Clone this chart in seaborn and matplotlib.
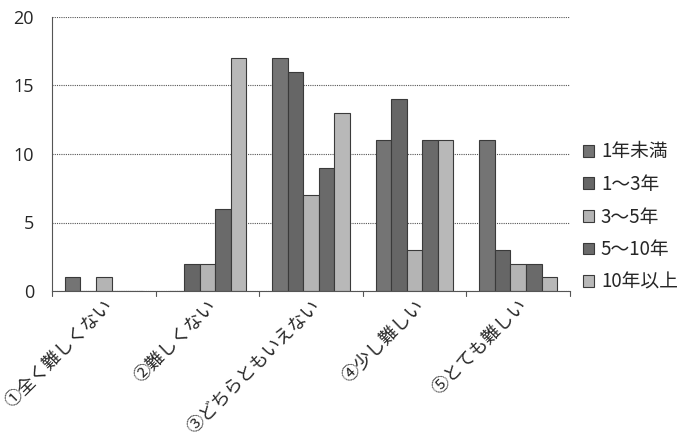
import matplotlib
matplotlib.use("Agg")
import matplotlib.pyplot as plt
import seaborn as sns
import pandas as pd

categories = ["①全く難しくない", "②難しくない", "③どちらともいえない", "④少し難しい", "⑤とても難しい"]
series = ["1年未満", "1～3年", "3～5年", "5～10年", "10年以上"]
v_lt1 = [1, 0, 17, 11, 11]
v_1to3 = [0, 2, 16, 14, 3]
v_3to5 = [1, 2, 7, 3, 2]
v_5to10 = [0, 6, 9, 11, 2]
v_10up = [0, 17, 13, 11, 1]
yticks = [0, 5, 10, 15, 20]

colors = ["#747474", "#666666", "#b4b4b4", "#6a6a6a", "#b8b8b8"]

rows = []
for name, vals in zip(series, [v_lt1, v_1to3, v_3to5, v_5to10, v_10up]):
    for c, v in zip(categories, vals):
        rows.append({"cat": c, "series": name, "value": v})
df = pd.DataFrame(rows)

sns.set_style("white")
plt.rcParams["font.family"] = ["Noto Sans CJK JP", "DejaVu Sans"]

fig = plt.figure(figsize=(6.9, 4.37), dpi=100)
ax = fig.add_axes([52 / 690, 1 - 291 / 437, (570 - 52) / 690, (291 - 17) / 437])

sns.barplot(data=df, x="cat", y="value", hue="series", hue_order=series,
            order=categories, palette=colors, width=0.75, ax=ax,
            edgecolor="#3a3a3a", linewidth=0.8, legend=True)

ax.set_ylim(0, 20)
ax.set_xlim(-0.5, 4.5)
ax.set_yticks(yticks)
ax.set_yticklabels([str(t) for t in yticks], fontsize=13, family=["Open Sans", "DejaVu Sans"])
ax.yaxis.grid(True, linestyle=(0, (1, 1)), color="#555555", linewidth=0.8)
ax.set_axisbelow(True)
ax.tick_params(axis="y", length=0, pad=13)

ax.set_xticks(range(len(categories)))
ax.set_xticklabels(categories, rotation=45, ha="right", va="top",
                   rotation_mode="anchor", fontsize=13)
ax.tick_params(axis="x", length=0, pad=4)
for b in [-0.5, 0.5, 1.5, 2.5, 3.5, 4.5]:
    ax.plot([b, b], [0, -0.35], color="#555555", lw=0.8, clip_on=False)

for s in ["top", "right"]:
    ax.spines[s].set_visible(False)
ax.spines["left"].set_color("#555555")
ax.spines["bottom"].set_color("#555555")
ax.set_xlabel("")
ax.set_ylabel("")

leg = ax.legend(loc="center left", bbox_to_anchor=(1.0, 0.27), frameon=False,
                fontsize=13.5, handlelength=0.6, handleheight=0.6,
                handletextpad=0.35, labelspacing=0.62, borderaxespad=0.3)

fig.savefig("out.png", dpi=100)
